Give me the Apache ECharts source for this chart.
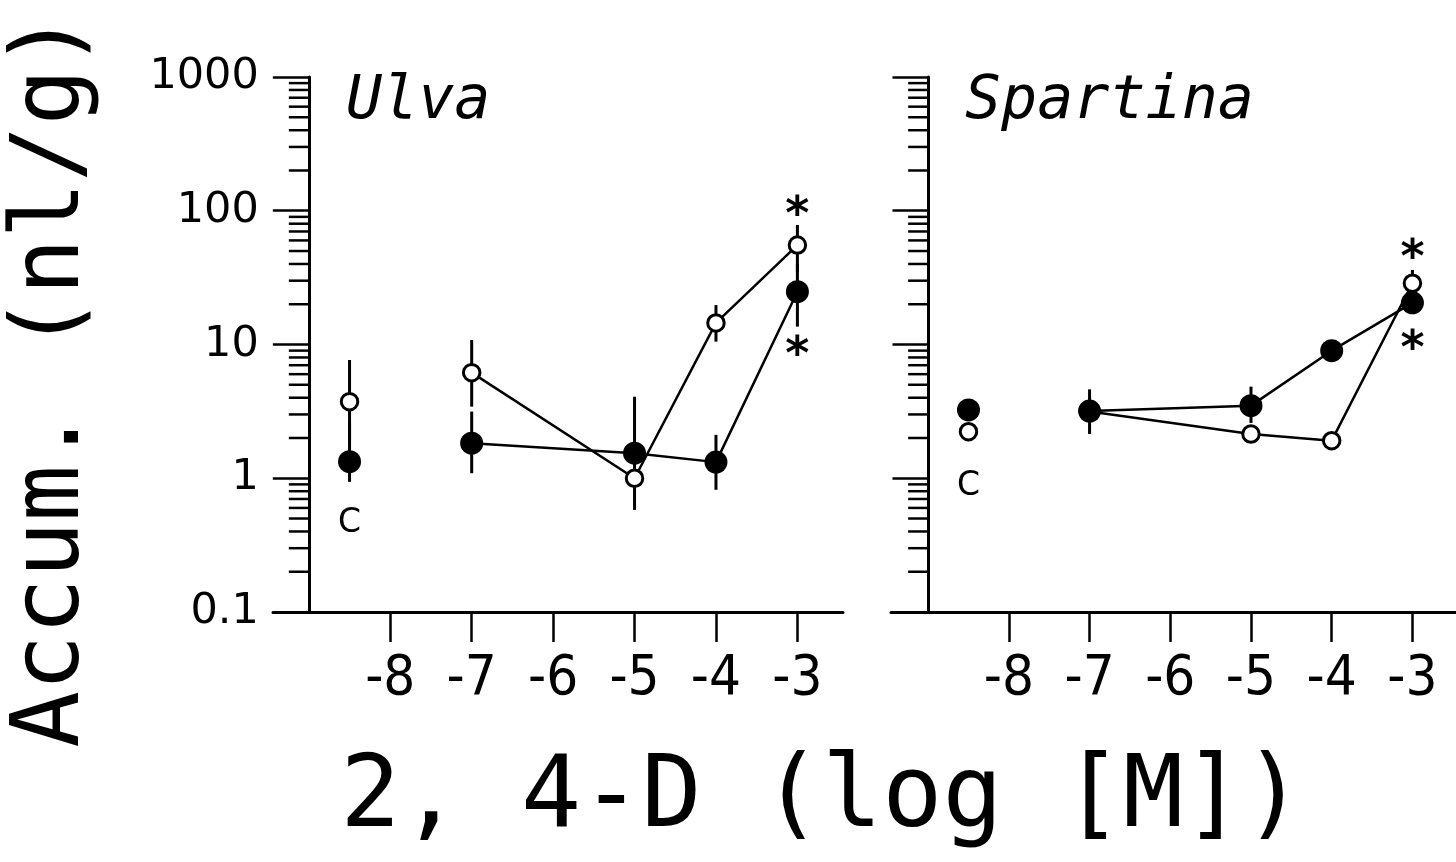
<!DOCTYPE html>
<html><head><meta charset="utf-8">
<script src="https://cdn.jsdelivr.net/npm/echarts@6/dist/echarts.min.js"></script>
<style>html,body{margin:0;padding:0;background:#fff}#c{width:1456px;height:862px}</style>
</head><body><div id="c"></div>
<script>
// ---- data ----
const xTicks = [-8, -7, -6, -5, -4, -3];
const yMinorTicks = [0.2,0.3,0.4,0.5,0.6,0.7,0.8,0.9, 2,3,4,5,6,7,8,9, 20,30,40,50,60,70,80,90, 200,300,400,500,600,700,800,900];
const controlX = -8.5;
const concX = [-7, -5, -4, -3];
const panelNames = ['Ulva', 'Spartina'];
// Ulva
const ulvaOpen = [6.16, 1.0, 14.5, 55.4];
const ulvaFilled = [1.83, 1.54, 1.32, 24.8];
const ulvaCtrlOpen = 3.74;
const ulvaCtrlFilled = 1.33;
// error bars: [x, low, high]
const ulvaErr = [
  [-8.5, 1.9, 7.66], [-8.5, 0.94, 2.6],
  [-7, 3.43, 10.8], [-7, 1.09, 3.15],
  [-5, 1.2, 4.07], [-5, 0.58, 1.3],
  [-4, 10.5, 19.7], [-4, 0.82, 2.11],
  [-3, 35, 78.3], [-3, 13.6, 40]
];
// Spartina
const spartinaOpen = [3.15, 2.14, 1.91, 28.7];
const spartinaFilled = [3.18, 3.49, 8.99, 20.5];
const spartinaCtrlOpen = 2.23;
const spartinaCtrlFilled = 3.24;
const spartinaErr = [
  [-7, 2.14, 4.62],
  [-5, 2.59, 4.84],
  [-3, 24, 36.1]
];
const controlText = 'C';
const sigText = '*';

// ---- layout ----
const grids = [
  {left: 273, top: 77, width: 570, height: 535},
  {left: 891, top: 77, width: 570, height: 535}
];
const xRanges = [[-9.44, -2.44], [-9.46, -2.46]];
const yAxisAt = -9;

const narrowFont = "'Liberation Sans Narrow', 'DejaVu Sans Condensed', 'Arial Narrow', sans-serif";
const monoFont = "'DejaVu Sans Mono', monospace";

function xAxisCfg(i) {
  return {
    gridIndex: i, type: 'value', min: xRanges[i][0], max: xRanges[i][1],
    axisLine: {show: true, onZero: false, lineStyle: {color: '#000', width: 3}},
    axisTick: {show: true, length: 30, customValues: xTicks, lineStyle: {color: '#000', width: 2.5}},
    axisLabel: {show: true, customValues: xTicks, margin: 39, fontSize: 56, fontFamily: narrowFont, color: '#000',
      formatter: v => String(v)},
    splitLine: {show: false}
  };
}
function yAxisCfg(i) {
  const r = xRanges[i];
  const off = -((yAxisAt - r[0]) / (r[1] - r[0])) * grids[i].width;
  return {
    gridIndex: i, type: 'log', logBase: 10, min: 0.1, max: 1000, offset: off,
    axisLine: {show: true, onZero: false, lineStyle: {color: '#000', width: 3}},
    axisTick: {show: true, length: 36, lineStyle: {color: '#000', width: 2.5}},
    axisLabel: {show: i === 0, margin: 50, fontSize: 43, fontFamily: "'DejaVu Sans', sans-serif", color: '#000',
      formatter: v => (v < 1 ? Number(v).toFixed(1) : String(Math.round(v)))},
    splitLine: {show: false}
  };
}

function minorTickSeries(i) {
  return {
    type: 'custom', xAxisIndex: i, yAxisIndex: i, silent: true, clip: false, z: 1,
    data: yMinorTicks.map(v => [yAxisAt, v]),
    renderItem: (params, api) => {
      const p = api.coord([api.value(0), api.value(1)]);
      return {type: 'line', shape: {x1: p[0] - 20, y1: p[1], x2: p[0], y2: p[1]},
        style: {stroke: '#000', lineWidth: 2.5}};
    }
  };
}
function errSeries(i, data) {
  return {
    type: 'custom', xAxisIndex: i, yAxisIndex: i, silent: true, clip: false, z: 2,
    data: data,
    renderItem: (params, api) => {
      const a = api.coord([api.value(0), api.value(1)]);
      const b = api.coord([api.value(0), api.value(2)]);
      return {type: 'line', shape: {x1: a[0], y1: a[1], x2: b[0], y2: b[1]},
        style: {stroke: '#000', lineWidth: 3}};
    }
  };
}
const openStyle = {color: '#fff', borderColor: '#000', borderWidth: 3, opacity: 1};
const filledStyle = {color: '#000', borderColor: '#000', borderWidth: 0, opacity: 1};
const sigLabel = (dy) => ({show: true, formatter: sigText, position: 'inside', offset: [0, dy],
  fontSize: 46, fontWeight: 'bold', fontFamily: "'DejaVu Sans', sans-serif", color: '#000'});
const cLabel = (dy) => ({show: true, formatter: controlText, position: 'inside', offset: [0, dy],
  fontSize: 33, fontFamily: "'DejaVu Sans', sans-serif", color: '#000'});

function lineSeries(i, vals, open, sigDy) {
  return {
    type: 'line', xAxisIndex: i, yAxisIndex: i, z: open ? 3 : 4,
    symbol: 'circle', symbolSize: open ? 16.5 : 23, showSymbol: true, showAllSymbol: true,
    itemStyle: open ? openStyle : filledStyle,
    lineStyle: {color: '#000', width: 2.5, opacity: 1},
    emphasis: {disabled: true}, silent: true,
    data: concX.map((x, k) => {
      const item = {value: [x, vals[k]]};
      if (k === concX.length - 1) item.label = sigLabel(sigDy);
      return item;
    })
  };
}
function ctrlSeries(i, v, open, cDy) {
  const item = {value: [controlX, v]};
  if (cDy !== null) item.label = cLabel(cDy);
  return {
    type: 'scatter', xAxisIndex: i, yAxisIndex: i, z: open ? 3 : 4,
    symbol: 'circle', symbolSize: open ? 16.5 : 23,
    itemStyle: open ? openStyle : filledStyle, silent: true,
    emphasis: {disabled: true},
    data: [item]
  };
}

const titleStyle = {fontFamily: monoFont, fontStyle: 'italic', fontWeight: 'normal', fontSize: 60, color: '#000'};

const option = {
  animation: false,
  backgroundColor: '#fff',
  title: [
    {text: panelNames[0], left: 346, top: 72, padding: 0, textStyle: titleStyle},
    {text: panelNames[1], left: 965, top: 72, padding: 0, textStyle: titleStyle}
  ],
  grid: grids,
  xAxis: [xAxisCfg(0), xAxisCfg(1)],
  yAxis: [yAxisCfg(0), yAxisCfg(1)],
  series: [
    minorTickSeries(0), minorTickSeries(1),
    errSeries(0, ulvaErr), errSeries(1, spartinaErr),
    lineSeries(0, ulvaOpen, true, -28),
    lineSeries(0, ulvaFilled, false, 65),
    lineSeries(1, spartinaOpen, true, -23),
    lineSeries(1, spartinaFilled, false, 48),
    ctrlSeries(0, ulvaCtrlOpen, true, null),
    ctrlSeries(0, ulvaCtrlFilled, false, 62),
    ctrlSeries(1, spartinaCtrlOpen, true, 55),
    ctrlSeries(1, spartinaCtrlFilled, false, null)
  ],
  graphic: [
    {type: 'text', x: 54, y: 380, rotation: Math.PI / 2, silent: true,
      style: {text: 'Accum. (nl/g)', fontSize: 94, fontFamily: monoFont, fill: '#000',
        align: 'center', verticalAlign: 'middle', textAlign: 'center', textVerticalAlign: 'middle'}},
    {type: 'text', x: 822, y: 800, silent: true,
      style: {text: '2, 4-D (log [M])', fontSize: 100, fontFamily: monoFont, fill: '#000',
        align: 'center', verticalAlign: 'middle', textAlign: 'center', textVerticalAlign: 'middle'}}
  ]
};
const chart = echarts.init(document.getElementById('c'), null, {renderer: 'canvas'});
chart.setOption(option);
</script>
</body></html>
